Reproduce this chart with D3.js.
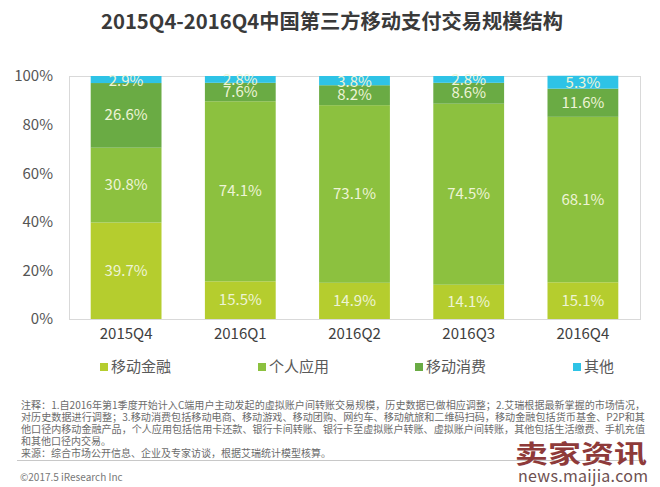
<!DOCTYPE html>
<html><head><meta charset="utf-8">
<script src="https://cdn.jsdelivr.net/npm/d3@7"></script>
<style>
body{margin:0;background:#fff;}
svg{display:block;font-family:"Noto Sans CJK SC","Noto Sans",sans-serif;}
</style></head>
<body><svg id="c" width="660" height="487"></svg>
<script>
const categories = ["2015Q4","2016Q1","2016Q2","2016Q3","2016Q4"];
const seriesNames = ["移动金融","个人应用","移动消费","其他"];
const mobileFinance = [39.7,15.5,14.9,14.1,15.1];
const personalApp = [30.8,74.1,73.1,74.5,68.1];
const mobileConsume = [26.6,7.6,8.2,8.6,11.6];
const others = [2.9,2.8,3.8,2.8,5.3];
const yTicks = [0,20,40,60,80,100];
const colors = ["#b5cd2e","#8cc13f","#6aab44","#2ec3e6"];
const title = "2015Q4-2016Q4中国第三方移动支付交易规模结构";
const notes = [
 "注释：1.自2016年第1季度开始计入C端用户主动发起的虚拟账户间转账交易规模，历史数据已做相应调整；2.艾瑞根据最新掌握的市场情况，",
 "对历史数据进行调整；3.移动消费包括移动电商、移动游戏、移动团购、网约车、移动航旅和二维码扫码，移动金融包括货币基金、P2P和其",
 "他口径内移动金融产品，个人应用包括信用卡还款、银行卡间转账、银行卡至虚拟账户转账、虚拟账户间转账，其他包括生活缴费、手机充值",
 "和其他口径内交易。",
 "来源：综合市场公开信息、企业及专家访谈，根据艾瑞统计模型核算。"
];

const svg = d3.select("#c");
const M = {l:69, r:640, t:76, b:319};
const data = categories.map((c,i)=>({cat:c, "移动金融":mobileFinance[i], "个人应用":personalApp[i], "移动消费":mobileConsume[i], "其他":others[i]}));
const stack = d3.stack().keys(seriesNames)(data);
const x = d3.scaleBand().domain(categories).range([M.l,M.r]).paddingInner(0.38).paddingOuter(0.19);
const y = d3.scaleLinear().domain([0,100]).range([M.b,M.t]);

svg.append("text").attr("x",332).attr("y",29).attr("text-anchor","middle")
 .attr("font-size",20).attr("font-weight","bold").attr("fill","#3a3a3a")
 .attr("textLength",462).attr("lengthAdjust","spacingAndGlyphs").text(title);

// frame
svg.append("rect").attr("x",M.l+0.5).attr("y",M.t+0.5).attr("width",M.r-M.l).attr("height",M.b-M.t)
 .attr("fill","none").attr("stroke","#d9d9d9");

// y axis
const ya = svg.append("g").attr("transform",`translate(${M.l},0)`)
 .call(d3.axisLeft(y).tickValues(yTicks).tickFormat(d=>d+"%").tickSize(0).tickPadding(16));
ya.select(".domain").remove();
ya.selectAll("text").attr("font-size",15).attr("fill","#555").attr("font-family","'Noto Sans CJK SC',sans-serif");

// x axis
const xa = svg.append("g").attr("transform",`translate(0,${M.b})`)
 .call(d3.axisBottom(x).tickSize(0).tickPadding(9));
xa.select(".domain").remove();
xa.selectAll("text").attr("font-size",15).attr("fill","#404040").attr("font-family","'Noto Sans CJK SC',sans-serif");

// bars
stack.forEach((s,si)=>{
  const g = svg.append("g");
  g.selectAll("rect").data(s).join("rect")
   .attr("x",d=>x(d.data.cat)).attr("width",x.bandwidth())
   .attr("y",d=>y(d[1])).attr("height",d=>y(d[0])-y(d[1]))
   .attr("fill",colors[si]);
});
stack.forEach((s,si)=>{
  svg.append("g").selectAll("text").data(s).join("text")
   .attr("x",d=>x(d.data.cat)+x.bandwidth()/2)
   .attr("y",d=>{const c=(y(d[0])+y(d[1]))/2; return (si===3? c+1 : c)+5;})
   .attr("text-anchor","middle").attr("font-size",15).attr("fill","#eef4d6")
   .text(d=>d.data[s.key].toFixed(1)+"%");
});

// legend
const legX = [100,258,415,573];
seriesNames.forEach((n,i)=>{
  svg.append("rect").attr("x",legX[i]).attr("y",363).attr("width",8).attr("height",8).attr("fill",colors[i]);
  svg.append("text").attr("x",legX[i]+11).attr("y",372).attr("font-size",15).attr("fill","#595959").text(n);
});

// notes
notes.forEach((t,i)=>{
  const tx = svg.append("text").attr("x",21).attr("y",409+i*12).attr("font-size",10).attr("fill","#6b6b6b").text(t);
  if(i<3) tx.attr("textLength",624).attr("lengthAdjust","spacingAndGlyphs");
});
svg.append("line").attr("x1",17).attr("x2",645).attr("y1",460.5).attr("y2",460.5).attr("stroke","#c8c8c8");
svg.append("text").attr("x",20).attr("y",481).attr("font-size",10).attr("fill","#777").text("©2017.5 iResearch Inc");

// watermark
svg.append("text").attr("x",581).attr("y",463).attr("text-anchor","middle").attr("font-size",25)
 .attr("font-weight","bold").attr("fill","#8e3a3a").attr("textLength",132).attr("lengthAdjust","spacingAndGlyphs").text("卖家资讯");
svg.append("text").attr("x",583).attr("y",482).attr("text-anchor","middle").attr("font-size",16)
 .attr("fill","#6e5050").attr("textLength",130).attr("lengthAdjust","spacing").text("news.maijia.com");
</script></body></html>
